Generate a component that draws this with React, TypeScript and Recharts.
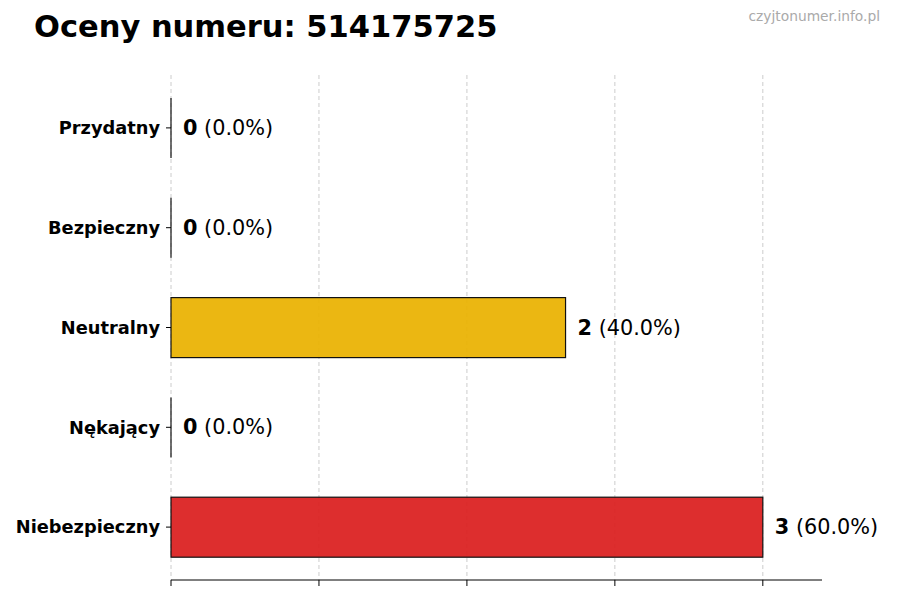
import React from 'react'
import { BarChart, Bar, XAxis, YAxis, CartesianGrid, Cell, LabelList } from 'recharts'

const categories = ['Przydatny', 'Bezpieczny', 'Neutralny', 'Nękający', 'Niebezpieczny']
const counts = [0, 0, 2, 0, 3]
const percents = [0.0, 0.0, 40.0, 0.0, 60.0]
const colors = ['#16a34a', '#2563eb', '#e9b200', '#f97316', '#da1e1e']
const xTicks = [0, 0.75, 1.5, 2.25, 3]

const data = categories.map((name, i) => ({ name, count: counts[i], pct: percents[i] }))

const FONT = '"DejaVu Sans", sans-serif'

const BarShape = (props: any) => {
  const { x, y, width, height, fill } = props
  if (!width || width < 1) {
    return <line x1={x} x2={x} y1={y} y2={y + height} stroke="#111" strokeWidth={1.2} />
  }
  return <rect x={x} y={y} width={width} height={height} fill={fill} fillOpacity={0.93} stroke="#111" strokeWidth={1.2} />
}

const ValueLabel = (props: any) => {
  const { x, y, width, height, index } = props
  const d = data[index]
  return (
    <text x={x + width + 12} y={y + height / 2} dominantBaseline="central" fontFamily={FONT} fontSize={20.8} fill="#000">
      <tspan fontWeight="bold">{d.count}</tspan>
      <tspan> ({d.pct.toFixed(1)}%)</tspan>
    </text>
  )
}

export default function App() {
  return (
    <div style={{ position: 'absolute', left: 0, top: 0, width: 900, height: 600, background: '#fff' }}>
      <div style={{ position: 'absolute', left: 34, top: 9, fontFamily: FONT, fontWeight: 'bold', fontSize: 30.5, color: '#000', whiteSpace: 'nowrap' }}>
        Oceny numeru: 514175725
      </div>
      <div style={{ position: 'absolute', right: 20, top: 8, fontFamily: FONT, fontSize: 13.8, color: '#aaa', whiteSpace: 'nowrap' }}>
        czyjtonumer.info.pl
      </div>
      <BarChart width={900} height={600} data={data} layout="vertical" margin={{ top: 75, right: 78, bottom: 0, left: 0 }} barCategoryGap={0}>
        <CartesianGrid horizontal={false} syncWithTicks stroke="#cccccc" strokeDasharray="4 3" />
        <XAxis type="number" domain={[0, 3.3]} ticks={xTicks} height={20} tickSize={6} tickFormatter={() => ''} axisLine={{ stroke: '#000' }} tickLine={{ stroke: '#000' }} />
        <YAxis type="category" dataKey="name" width={171} padding={{ top: 3, bottom: 3 }} axisLine={false} tickSize={5} tickMargin={6} tickLine={{ stroke: '#000' }} tick={{ fontFamily: FONT, fontWeight: 'bold', fontSize: 17.8, fill: '#000' }} />
        <Bar dataKey="count" barSize={60} isAnimationActive={false} shape={<BarShape />}>
          {data.map((d, i) => <Cell key={d.name} fill={colors[i]} />)}
          <LabelList dataKey="count" content={<ValueLabel />} />
        </Bar>
      </BarChart>
    </div>
  )
}
